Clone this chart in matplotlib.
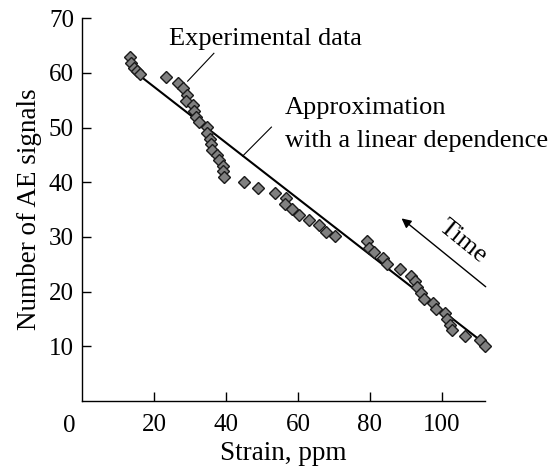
import matplotlib
matplotlib.use("Agg")
import matplotlib.pyplot as plt
import matplotlib.transforms as mtransforms

plt.rcParams['font.family'] = ['Liberation Serif', 'DejaVu Serif']

# Experimental data (strain, ppm ; number of AE signals)
strain = [13.3, 13.6, 14.3, 15.2, 16.0, 23.2, 26.5, 28.0, 29.1, 28.9, 30.9, 31.1, 31.5,
          32.6, 34.8, 34.6, 35.5, 35.9, 36.1, 37.4, 38.1, 39.0, 39.2, 39.4, 44.9,
          48.8, 53.6, 56.6, 56.4, 58.4, 60.3, 63.0, 65.8, 67.8, 70.2, 79.3, 79.8,
          81.1, 83.7, 84.7, 88.4, 91.3, 92.4, 93.1, 94.1, 95.0, 97.6, 98.5, 100.9,
          101.3, 102.2, 102.7, 106.4, 110.5, 112.0]
signals = [62.9, 61.9, 61.0, 60.4, 59.9, 59.2, 58.2, 57.3, 56.0, 54.9, 54.1, 53.0, 52.0,
           51.0, 50.2, 49.0, 48.0, 47.0, 45.9, 45.0, 44.0, 43.0, 42.0, 40.9, 40.0,
           39.0, 38.1, 37.1, 36.1, 35.1, 34.0, 33.1, 32.2, 31.0, 30.1, 29.3, 28.0,
           27.2, 26.2, 25.0, 24.1, 22.9, 22.0, 20.9, 19.7, 18.6, 17.9, 16.8, 16.1,
           15.0, 13.9, 12.9, 11.9, 11.2, 10.1]

# Linear approximation endpoints
fit_x = [15.0, 110.5]
fit_y = [60.0, 11.2]

x_ticks = [20, 40, 60, 80, 100]
y_ticks = [10, 20, 30, 40, 50, 60, 70]

fig = plt.figure(figsize=(5.53, 4.73), dpi=100)
ax = fig.add_axes([0.1488, 0.1522, 0.877 - 0.1488, 0.9613 - 0.1522])

ax.plot(fit_x, fit_y, color='black', lw=1.5, zorder=2)
ax.plot(strain, signals, linestyle='none', marker='D', ms=6.5,
        mfc='#808080', mec='#1a1a1a', mew=1.0, zorder=3, clip_on=False)

ax.set_xlim(0, 112)
ax.set_ylim(0, 70)
ax.set_xticks(x_ticks)
ax.set_yticks(y_ticks)
for s in ['top', 'right']:
    ax.spines[s].set_visible(False)
for s in ['left', 'bottom']:
    ax.spines[s].set_linewidth(1.0)
ax.tick_params(direction='in', length=6.5, width=1.0, labelsize=18)
ax.tick_params(axis='x', pad=9)
ax.tick_params(axis='y', pad=6)

trans = mtransforms.blended_transform_factory(ax.transData, ax.transAxes)
zero_off = mtransforms.ScaledTranslation(0, -10/72, fig.dpi_scale_trans)
ax.text(-3.7, 0, '0', transform=trans + zero_off, fontsize=18, ha='center', va='top')

ax.set_xlabel('Strain, ppm', fontsize=19.5)
ax.set_ylabel('Number of AE signals', fontsize=19.5)
ax.xaxis.set_label_coords(0.5, -0.105)
ax.yaxis.set_label_coords(-0.10, 0.5)

fs = 19
ax.text(24.1, 65.1, 'Experimental data', fontsize=fs, ha='left', va='baseline')
ax.plot([36.6, 29.3], [63.6, 58.5], color='black', lw=0.8, clip_on=False)

ax.text(56.3, 52.5, 'Approximation', fontsize=fs, ha='left', va='baseline')
ax.text(56.3, 46.5, 'with a linear dependence', fontsize=fs, ha='left', va='baseline',
        clip_on=False)
ax.plot([52.6, 44.6], [50.1, 44.8], color='black', lw=0.8, clip_on=False)

ax.annotate('', xy=(88.8, 33.4), xytext=(112.2, 20.9),
            arrowprops=dict(arrowstyle='-|>', color='black', lw=1.0,
                            mutation_scale=14, shrinkA=0, shrinkB=0),
            annotation_clip=False)
ax.text(105.8, 29.1, 'Time', fontsize=fs, rotation=-39, ha='center', va='center',
        rotation_mode='anchor')

fig.savefig('out.png', dpi=100)
